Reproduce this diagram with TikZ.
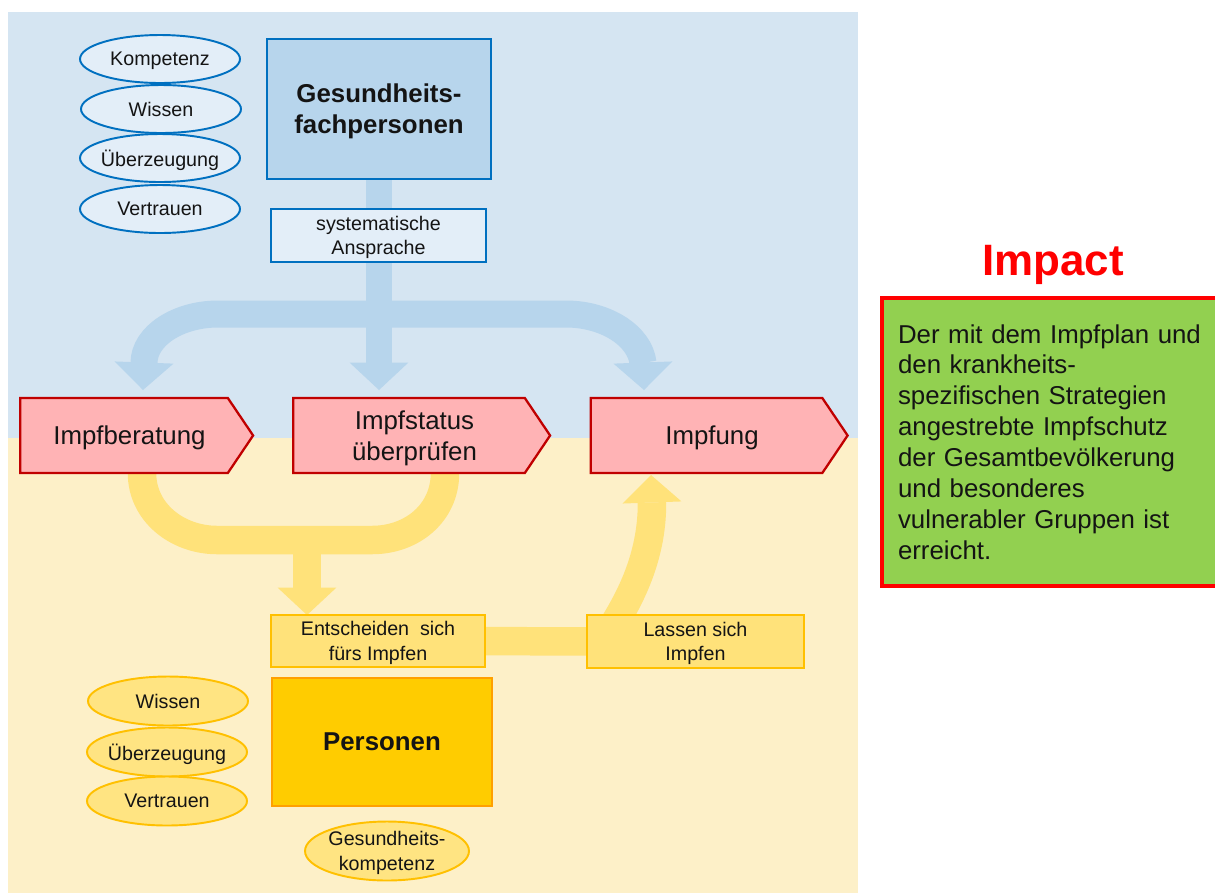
\documentclass[tikz,border=0pt]{standalone}
\usepackage{fontspec}
\setmainfont{Liberation Sans}
\usetikzlibrary{shapes.geometric,shapes.symbols,arrows.meta}
\definecolor{bgblue}{RGB}{213,229,242}
\definecolor{bgyel}{RGB}{253,240,200}
\definecolor{bandblue}{RGB}{183,213,236}
\definecolor{bandyel}{RGB}{255,226,122}
\definecolor{elblue}{RGB}{227,238,248}
\definecolor{lnblue}{RGB}{0,112,192}
\definecolor{elyel}{RGB}{255,228,130}
\definecolor{lnyel}{RGB}{255,192,0}
\definecolor{persfill}{RGB}{255,204,0}
\definecolor{perslin}{RGB}{255,160,0}
\definecolor{pinkfill}{RGB}{255,179,181}
\definecolor{darkred}{RGB}{192,0,0}
\definecolor{impgreen}{RGB}{146,208,80}
\definecolor{impred}{RGB}{255,0,0}
\definecolor{txt}{RGB}{20,20,20}
\pgfdeclarelayer{bglayer}
\pgfdeclarelayer{bandlayer}
\pgfsetlayers{bglayer,bandlayer,main}
\newcommand{\lsh}{\hbox{}\kern0.22cm}
\tikzset{
  bigtxt/.style={font=\fontsize{14.7}{17.6}\selectfont, text=txt, text depth=0pt},
  smalltxt/.style={font=\fontsize{11.2}{14}\selectfont, text=txt, text depth=0pt},
  bell/.style={ellipse, draw=lnblue, line width=1.1pt, fill=elblue,
    minimum width=3.2cm, minimum height=0.96cm, inner ysep=0pt, inner xsep=-2.5pt, smalltxt},
  yell/.style={ellipse, draw=lnyel, line width=1.1pt, fill=elyel,
    minimum width=3.2cm, minimum height=0.98cm, inner ysep=0pt, inner xsep=-2.5pt, smalltxt, align=center},
  pent/.style={signal, signal to=east, signal pointer angle=112,
    draw=darkred, line width=1.3pt, fill=pinkfill, minimum height=1.5cm,
    inner sep=0pt, bigtxt, align=center},
  bluebox/.style={rectangle, draw=lnblue, fill=elblue, line width=1pt,
    inner sep=0pt, smalltxt, align=center},
  yelbox/.style={rectangle, draw=lnyel, fill=bandyel, line width=1pt,
    inner sep=0pt, smalltxt, align=center},
  headtip/.style={-{Triangle[width=1.18cm,length=0.55cm,line width=0pt]}},
  bband/.style={draw=bandblue, line width=0.54cm, line cap=butt, line join=round},
  yband/.style={draw=bandyel, line width=0.57cm, line cap=butt, line join=round},
}
\begin{document}
\begin{tikzpicture}[x=0.02cm,y=-0.02cm]
\useasboundingbox (0,0) rectangle (1215,894);
\clip (0,0) rectangle (1215,894);

% ---------- nodes ----------
\node[bell] (kompB) at (160,59) {Kompetenz};
\node[bell] (wissB) at (161,109) {Wissen};
\node[bell] (uebB) at (160,158) {Überzeugung};
\node[bell] (vertB) at (160,209) {Vertrauen};

\node[rectangle, draw=lnblue, fill=bandblue, line width=1.4pt,
      minimum width=4.48cm, minimum height=2.8cm, inner sep=0pt,
      bigtxt, font=\fontsize{14.7}{17.6}\selectfont\bfseries, align=center]
      (gfp) at (379,109) {Gesundheits-\\fachpersonen};

\node[bluebox, minimum width=4.3cm, minimum height=1.06cm]
      (sys) at (378.5,235.5) {systematische\\Ansprache};

\node[pent, minimum width=4.66cm] (impfb) at (124,435.5) {\lsh Impfberatung};
\node[pent, minimum width=5.14cm] (impst) at (409,435.5) {\lsh Impfstatus\\\lsh überprüfen};
\node[pent, minimum width=5.14cm] (impfung) at (706.5,435.5) {\lsh Impfung};

\node[yelbox, minimum width=4.28cm, minimum height=1.04cm]
      (ent) at (378,641) {Entscheiden~~sich\\fürs Impfen};
\node[yelbox, minimum width=4.34cm, minimum height=1.06cm]
      (lass) at (695.5,641.5) {Lassen sich\\Impfen};

\node[rectangle, draw=perslin, fill=persfill, line width=1.5pt,
      minimum width=4.4cm, minimum height=2.56cm, inner sep=0pt,
      font=\fontsize{14.7}{17.6}\selectfont\bfseries, text=txt]
      (pers) at (382,742) {Personen};

\node[yell] (wissY) at (168,701) {Wissen};
\node[yell] (uebY) at (167,752) {Überzeugung};
\node[yell] (vertY) at (167,801) {Vertrauen};
\node[yell, minimum width=3.28cm, minimum height=1.18cm] (gkomp) at (387,851)
      {Gesundheits-\\kompetenz};

\node[font=\fontsize{25}{30}\selectfont\bfseries, text=impred, inner sep=0pt]
      (title) at (1053,265) {Impact};

\node[rectangle, draw=impred, fill=impgreen, line width=2.3pt,
      minimum width=6.96cm, minimum height=5.76cm, inner sep=0pt,
      text width=6.32cm, align=left, font=\fontsize{14.7}{17.6}\selectfont, text=txt]
      (impact) at (1056,442)
      {Der mit dem Impfplan und\\den krankheits-\\spezifischen Strategien\\angestrebte Impfschutz\\der Gesamtbevölkerung\\und besonderes\\vulnerabler Gruppen ist\\erreicht.};

% ---------- connector coordinates ----------
\coordinate (split) at (379,314);
\coordinate (tipM) at (379,390);
\coordinate (tipL) at (143,390);
\coordinate (tipR) at (644,390);
\coordinate (merge) at (307,540);
\coordinate (tipE) at (307,615);
\coordinate (tipI) at (651,475);

% ---------- band arrows ----------
\begin{pgfonlayer}{bandlayer}
  \draw[bband, headtip] (gfp.center) -- (tipM);
  \draw[bband, headtip] (split) -- (218,314) .. controls (178,314) and (144,336) .. (144,363) -- (tipL);
  \draw[bband, headtip] (split) -- (566,314) .. controls (606,314) and (640,336) .. (643,363) -- (tipR);

  \draw[yband] (142,450) -- (142,473) .. controls (142,513) and (178,540) .. (217,540)
      -- (372,540) .. controls (412,540) and (445,513) .. (445,473) -- (445,450);
  \draw[yband, headtip] (merge) -- (tipE);
  \draw[yband] (ent) -- (lass);
  \draw[yband, headtip] (600,645) .. controls (628,605) and (652,560) .. (652,503) -- (tipI);
\end{pgfonlayer}

% ---------- backgrounds ----------
\begin{pgfonlayer}{bglayer}
  \fill[bgblue] (8,12) rectangle (858,438);
  \fill[bgyel] (8,438) rectangle (858,893);
\end{pgfonlayer}
\end{tikzpicture}
\end{document}
